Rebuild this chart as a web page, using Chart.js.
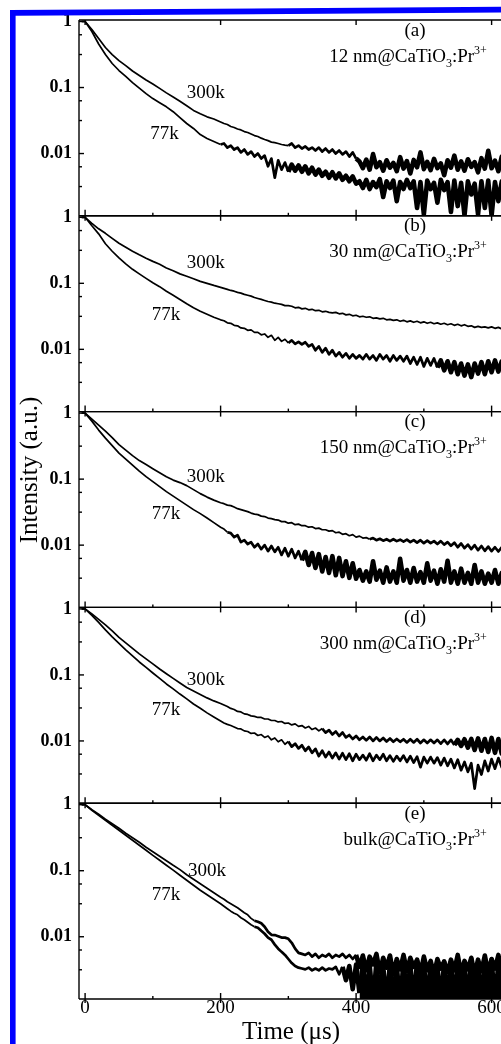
<!DOCTYPE html>
<html>
<head>
<meta charset="utf-8">
<script src="https://cdn.jsdelivr.net/npm/chart.js@4/dist/chart.umd.min.js"></script>
<style>
html,body{margin:0;padding:0;background:#fff;overflow:hidden;width:501px;height:1044px;}
#wrap{position:relative;width:501px;height:1044px;overflow:hidden;}
#c{position:absolute;left:0;top:0;}
#frame{position:absolute;left:0;top:0;}
</style>
</head>
<body>
<div id="wrap">
<canvas id="c" width="530" height="1044"></canvas>
<svg id="frame" width="501" height="1044"><polygon points="10,10 501,6.8 501,12.6 15.6,15.8 15.6,1044 10,1044" fill="#0000ff"/></svg>
</div>
<script>
// ---------- data (time in µs, intensity in a.u.) ----------
const times = [-5,0,10,20,30,40,50,60,70,80,90,100,110,120,130,140,150,160,170,180,190,200,
205,210,215,220,225,230,235,240,245,250,255,260,265,270,275,280,285,290,295,300,
305,310,315,320,325,330,335,340,345,350,355,360,365,370,375,380,385,390,395,400,
405,410,415,420,425,430,435,440,445,450,455,460,465,470,475,480,485,490,495,500,
505,510,515,520,525,530,535,540,545,550,555,560,565,570,575,580,585,590,595,600,
605,610,615,620,625];

const a300k = [1,1,0.756,0.553,0.404,0.316,0.256,0.215,0.178,0.152,0.130,0.113,0.097,0.083,0.072,0.062,0.053,0.045,0.040,0.036,0.0334,0.030,
0.0285,0.0275,0.0257,0.0248,0.0235,0.0228,0.0215,0.0208,0.0197,0.0187,0.0181,0.0171,0.0163,0.0157,0.0149,0.0146,0.0142,0.0137,0.0134,0.0132,
0.0142,0.0123,0.0132,0.0119,0.0128,0.0115,0.0123,0.0111,0.0123,0.0107,0.0119,0.0104,0.0115,0.0100,0.0111,0.0097,0.0107,0.0090,0.0104,0.0084,
0.0076,0.0060,0.0081,0.0057,0.0098,0.0062,0.0074,0.0055,0.0079,0.0061,
0.0072,0.0054,0.0088,0.0059,0.0077,0.0050,0.0080,0.0062,0.0104,0.0058,
0.0075,0.0056,0.0083,0.0060,0.0071,0.0047,0.0079,0.0061,0.0093,0.0057,
0.0076,0.0055,0.0082,0.0063,0.0074,0.0052,0.0085,0.0059,0.0110,0.0060,
0.0078,0.0054,0.0090,0.0058,0.0076];
const a77k = [1,1,0.705,0.456,0.316,0.231,0.181,0.147,0.119,0.098,0.081,0.068,0.059,0.051,0.043,0.035,0.0285,0.024,0.0194,0.0169,0.0152,0.0137,
0.0142,0.0123,0.0132,0.0115,0.0123,0.0104,0.0115,0.0097,0.0107,0.0090,0.0100,0.0084,0.0093,0.0064,0.0084,0.0043,0.0079,0.0057,0.0073,0.0053,
0.0068,0.0055,0.0066,0.0053,0.0064,0.0050,0.0061,0.0048,0.0057,0.0046,0.0053,0.0043,0.0052,0.0042,0.0050,0.0040,0.0046,0.0038,0.0045,0.0035,
0.0038,0.0030,0.0040,0.0029,0.0037,0.0031,0.0041,0.0022,0.0038,0.0030,
0.0039,0.0019,0.0037,0.0029,0.0040,0.0030,0.0038,0.0015,0.0037,0.0012,
0.0039,0.0029,0.0036,0.0018,0.0040,0.0028,0.0037,0.0013,0.0039,0.0016,
0.0036,0.00115,0.0038,0.0024,0.0035,0.0012,0.0038,0.0015,0.0039,0.00115,
0.0037,0.0019,0.0038,0.0013,0.0036];

const b300k = [1,1,0.811,0.67,0.572,0.48,0.404,0.351,0.306,0.27,0.24,0.215,0.194,0.171,0.155,0.139,0.128,0.117,0.107,0.100,0.093,0.087,
0.084,0.081,0.078,0.076,0.073,0.071,0.068,0.066,0.064,0.061,0.059,0.057,0.055,0.053,0.052,0.050,0.049,0.048,0.046,0.046,
0.045,0.0425,0.0433,0.041,0.0418,0.0397,0.0404,0.0385,0.039,0.037,0.0377,0.0363,0.0357,0.0363,0.0345,0.0351,0.0333,0.0339,0.0322,0.0328,
0.0311,0.0317,0.0306,0.0311,0.0295,0.030,0.029,0.0295,0.028,0.0285,
0.0275,0.028,0.0266,0.0275,0.0261,0.027,0.0257,0.0266,0.0252,0.0261,
0.0248,0.0257,0.0244,0.0252,0.024,0.0248,0.0236,0.0244,0.0231,0.024,
0.0227,0.0236,0.0223,0.0227,0.0215,0.0223,0.0215,0.0219,0.0211,0.0219,
0.0208,0.0215,0.0204,0.0211,0.0208];
const b77k = [1,1,0.743,0.562,0.397,0.306,0.243,0.197,0.163,0.139,0.119,0.102,0.089,0.076,0.066,0.057,0.049,0.0426,0.0377,0.0339,0.0306,0.028,
0.0271,0.0252,0.0248,0.0231,0.0227,0.0211,0.0208,0.0194,0.0197,0.0181,0.0181,0.0166,0.0171,0.0152,0.0163,0.0137,0.0152,0.0132,0.0142,0.0125,
0.0137,0.0121,0.0130,0.0119,0.0128,0.0111,0.0119,0.0097,0.0111,0.0090,0.0104,0.0084,0.0097,0.0079,0.0090,0.0076,0.0087,0.0073,0.0084,0.0073,
0.0081,0.0071,0.0084,0.0071,0.0081,0.0068,0.0084,0.0071,0.0081,0.0066,
0.0081,0.0068,0.0079,0.0066,0.0079,0.0061,0.0076,0.0059,0.0076,0.0055,
0.0073,0.0057,0.0073,0.0053,0.0068,0.0048,0.0066,0.0045,0.0064,0.0042,
0.0061,0.0040,0.0059,0.0038,0.0061,0.0043,0.0064,0.0042,0.0066,0.0045,
0.0068,0.0046,0.0066,0.0048,0.0064];

const c300k = [1,1,0.811,0.658,0.534,0.425,0.333,0.275,0.227,0.191,0.166,0.144,0.125,0.109,0.0966,0.0886,0.0797,0.0693,0.0603,0.0534,0.0481,0.0439,
0.0425,0.0404,0.0397,0.0377,0.0357,0.0345,0.0333,0.0322,0.0306,0.0295,0.029,0.0275,0.0271,0.0257,0.0252,0.0244,0.024,0.0227,0.0227,0.0215,
0.0219,0.0204,0.0208,0.0197,0.0197,0.0187,0.019,0.0178,0.0181,0.0171,0.0171,0.0163,0.0166,0.0154,0.0157,0.0146,0.0149,0.0139,0.0144,0.0132,
0.0137,0.0128,0.013,0.0123,0.0128,0.0119,0.0125,0.0117,0.0123,0.0115,
0.0123,0.0115,0.0121,0.0113,0.0121,0.0111,0.0119,0.0109,0.0119,0.0107,
0.0117,0.0107,0.0115,0.0104,0.0115,0.0102,0.0111,0.0098,0.0109,0.0093,
0.0106,0.0090,0.0102,0.0087,0.0100,0.0084,0.0097,0.0082,0.0095,0.0081,
0.0093,0.0080,0.0093,0.0081,0.0091];
const c77k = [1,1,0.756,0.553,0.418,0.322,0.248,0.201,0.163,0.132,0.109,0.0917,0.077,0.0646,0.0553,0.0472,0.0404,0.0345,0.030,0.0257,0.0219,0.0187,
0.0175,0.0157,0.0152,0.0132,0.0142,0.0111,0.0119,0.0104,0.0111,0.0093,0.0104,0.0087,0.0100,0.0081,0.0097,0.0079,0.0093,0.0071,0.0090,0.0068,
0.0087,0.0064,0.0081,0.0059,0.0079,0.0050,0.0076,0.0045,0.0073,0.0040,0.0066,0.0038,0.0068,0.0035,0.0064,0.0034,0.0057,0.0032,0.0053,0.0031,
0.0042,0.0029,0.0040,0.0028,0.0057,0.0030,0.0041,0.0027,0.0046,0.0028,
0.0040,0.0027,0.0062,0.0029,0.0042,0.0027,0.0045,0.0028,0.0039,0.0027,
0.0053,0.0029,0.0041,0.0026,0.0043,0.0028,0.0058,0.0027,0.0040,0.0026,
0.0044,0.0027,0.0038,0.0026,0.0050,0.0027,0.0040,0.0026,0.0037,0.0027,
0.0042,0.0026,0.0038,0.0027,0.0041];

const d300k = [1,1,0.84,0.693,0.572,0.464,0.370,0.306,0.252,0.208,0.175,0.147,0.123,0.104,0.0886,0.0756,0.0646,0.0572,0.0507,0.0449,0.0404,0.0370,
0.0351,0.0333,0.0311,0.0300,0.0280,0.0275,0.0257,0.0252,0.0240,0.0236,0.0227,0.0227,0.0215,0.0215,0.0204,0.0204,0.0194,0.0197,0.0184,0.0187,
0.0175,0.0181,0.0166,0.0171,0.0157,0.0166,0.0149,0.0157,0.0142,0.0154,0.0134,0.0146,0.0125,0.0139,0.0119,0.0134,0.0113,0.0123,0.0107,0.0119,
0.0104,0.0115,0.0102,0.0115,0.0100,0.0113,0.0100,0.0111,0.0098,0.0109,
0.0097,0.0107,0.0097,0.0106,0.0095,0.0106,0.0095,0.0106,0.0093,0.0104,
0.0093,0.0104,0.0093,0.0104,0.0091,0.0104,0.0090,0.0104,0.0087,0.0104,
0.0084,0.0106,0.0079,0.0107,0.0073,0.0109,0.0071,0.0107,0.0068,0.0111,
0.0066,0.0107,0.0064,0.0104,0.0071];
const d77k = [1,1,0.797,0.624,0.481,0.377,0.300,0.239,0.194,0.157,0.130,0.107,0.0886,0.0730,0.0614,0.0513,0.0433,0.0363,0.0312,0.0266,0.0231,0.0201,
0.0187,0.0178,0.0171,0.0163,0.0154,0.0152,0.0142,0.0139,0.0130,0.0132,0.0121,0.0125,0.0113,0.0119,0.0104,0.0111,0.0097,0.0104,0.0089,0.0098,
0.0082,0.0091,0.0077,0.0086,0.0071,0.0081,0.0066,0.0076,0.0059,0.0071,0.0057,0.0068,0.0055,0.0066,0.0053,0.0065,0.0052,0.0064,0.0050,0.0063,
0.0052,0.0061,0.0051,0.0064,0.0050,0.0061,0.0052,0.0063,0.0050,0.0060,
0.0049,0.0059,0.0050,0.0060,0.0048,0.0059,0.0047,0.0058,0.0040,0.0057,
0.0046,0.0057,0.0046,0.0056,0.0043,0.0055,0.0042,0.0053,0.0039,0.0052,
0.0036,0.0048,0.0034,0.0046,0.0019,0.0043,0.0031,0.0050,0.0035,0.0053,
0.0038,0.0055,0.0040,0.0057,0.0042];

const e300k = [1,1,0.84,0.718,0.603,0.515,0.44,0.370,0.316,0.270,0.227,0.194,0.166,0.142,0.121,0.104,0.087,0.0743,0.0636,0.0544,0.0464,0.0397,
0.0370,0.0339,0.0316,0.0295,0.0275,0.0252,0.0231,0.0215,0.019,0.0175,0.0169,0.0160,0.0142,0.0119,0.0107,0.0106,0.0102,0.0097,0.0097,0.0093,
0.0081,0.0066,0.0057,0.0055,0.0053,0.0057,0.0050,0.0055,0.0048,0.0053,0.0050,0.0055,0.0048,0.0053,0.0050,0.0055,0.0048,0.0053,0.0046,0.0053,
0.0035,0.0052,0.0031,0.0050,0.0038,0.0055,0.0029,0.0048,0.0034,0.0052,
0.0027,0.0046,0.0032,0.0053,0.0030,0.0048,0.0035,0.0045,0.0028,0.0050,
0.0031,0.0043,0.0027,0.0046,0.0033,0.0042,0.0029,0.0045,0.0031,0.0053,
0.0028,0.0043,0.0032,0.0048,0.0027,0.0045,0.0030,0.0052,0.0029,0.0046,
0.0033,0.0053,0.0028,0.0050,0.0031];
const e77k = [1,1,0.825,0.693,0.582,0.489,0.411,0.345,0.290,0.243,0.204,0.171,0.144,0.121,0.102,0.0855,0.0718,0.0603,0.0507,0.0433,0.0370,0.0316,
0.029,0.0266,0.0244,0.0227,0.0215,0.0194,0.0181,0.0166,0.0152,0.0142,0.0137,0.0123,0.0111,0.0097,0.0090,0.0076,0.0066,0.0059,0.0053,0.0046,
0.0040,0.0036,0.0034,0.0033,0.0032,0.0034,0.0031,0.0033,0.0031,0.0034,0.0031,0.0033,0.0032,0.0035,0.0027,0.0035,0.0022,0.0036,0.0016,0.0038,
0.0014,0.0040,0.00115,0.0038,0.001,0.0042,0.0012,0.0035,0.001,0.0040,
0.001,0.0036,0.001,0.0042,0.0012,0.0038,0.001,0.0043,0.001,0.0039,
0.001,0.0040,0.00115,0.0036,0.001,0.0042,0.001,0.0039,0.001,0.0043,
0.00115,0.0038,0.001,0.0046,0.001,0.0040,0.001,0.0042,0.00115,0.0045,
0.001,0.0040,0.001,0.0043,0.001];

const panelTags = ['(a)','(b)','(c)','(d)','(e)'];
const sampleNames = ['12 nm','30 nm','150 nm','300 nm','bulk'];
const seriesLabels = ['300k','77k'];
const values300k = [a300k,b300k,c300k,d300k,e300k];
const values77k = [a77k,b77k,c77k,d77k,e77k];
const yTickValues = [1,0.1,0.01];
const yTickLabels = ['1','0.1','0.01'];
const yMinorValues = [0.63,0.316,0.063,0.0316,0.0063,0.00316];
const xTickValues = [0,200,400,600];
const xTickLabels = ['0','200','400','600'];
const xMinorValues = [100,300,500];

// style: time (µs) after which a trace is drawn as a noisy band (medium) / dense band (heavy) / filled to axis
const noisyFrom300k = [300, 9999, 420, 350, 250];
const heavyFrom300k = [400, 9999, 9999, 545, 400];
const noisyFrom77k = [200, 300, 210, 300, 250];
const heavyFrom77k = [300, 520, 320, 9999, 380];
const fillFrom77k = [9999, 9999, 9999, 9999, 405];

// annotation anchors (data units)
const label300kX = [150,150,150,150,152];
const label300kY = [0.0694,0.170,0.0892,0.0709,0.0844];
const label77kX = [96,98.5,98.5,98.5,98.5];
const label77kY = [0.0166,0.028,0.025,0.0244,0.0357];

[...values300k,...values77k].forEach((a,i)=>{ if(a.length!==times.length) throw new Error('length mismatch in series '+i+': '+a.length+' vs '+times.length); });

// ---------- chart ----------
const SERIF = '"Liberation Serif", "Times New Roman", serif';
const panelIds = ['y0','y1','y2','y3','y4'];

const datasets = [];
panelIds.forEach((id,p)=>{
  [[values300k[p], noisyFrom300k[p], heavyFrom300k[p], 9999], [values77k[p], noisyFrom77k[p], heavyFrom77k[p], fillFrom77k[p]]].forEach(([vals,noisyFrom,heavyFrom,fillFrom],k)=>{
    const ds = {
      label: sampleNames[p]+' '+seriesLabels[k],
      data: times.map((t,i)=>({x:t, y:vals[i]})),
      yAxisID: id, xAxisID: 'x',
      borderColor: '#000', borderWidth: 1.7, pointRadius: 0, tension: 0, fill: false,
      borderJoinStyle: 'round',
      backgroundColor: 'rgba(0,0,0,0)',
      segment: {
        borderWidth: c => (c.p0.parsed.x >= heavyFrom ? 4.6 : (c.p0.parsed.x >= noisyFrom ? 2.7 : 1.7)),
        backgroundColor: c => (c.p0.parsed.x >= fillFrom ? '#000' : 'rgba(0,0,0,0)')
      }
    };
    if (fillFrom < 9999) ds.fill = 'start';
    datasets.push(ds);
  });
});

const scales = {};
for (let p = 4; p >= 0; p--) {
  scales[panelIds[p]] = {
    type: 'logarithmic', position: 'left', stack: 'panels', stackWeight: 1,
    min: 0.00114, max: 1.054,
    grid: {display:false, drawTicks:false}, border: {display:false},
    afterBuildTicks: s => { s.ticks = yTickValues.map(v=>({value:v})); },
    afterFit: s => { s.width = 79; },
    ticks: {
      callback: (v,i) => yTickLabels[i],
      font: {family: SERIF, size: 18, weight: 'bold', lineHeight: 1},
      color: '#000', padding: 7, autoSkip: false, maxRotation: 0
    }
  };
}
scales.x = {
  type: 'linear', position: 'bottom', min: -9, max: 640,
  grid: {display:false, drawTicks:false}, border: {display:false},
  afterBuildTicks: s => { s.ticks = xTickValues.map(v=>({value:v})); },
  afterFit: s => { s.height = 45; },
  ticks: {
    callback: (v,i) => xTickLabels[i],
    font: {family: SERIF, size: 19, lineHeight: 1},
    color: '#000', padding: 0, autoSkip: false, maxRotation: 0
  }
};

function drawFormula(ctx, name, right, baseline) {
  const big = '19px ' + SERIF, small = '12px ' + SERIF;
  const parts = [[name + '@CaTiO', big, 0], ['3', small, 5], [':Pr', big, 0], ['3+', small, -8]];
  let total = 0;
  parts.forEach(pt => { ctx.font = pt[1]; total += ctx.measureText(pt[0]).width; });
  let x = right - total;
  ctx.textAlign = 'left';
  parts.forEach(pt => { ctx.font = pt[1]; ctx.fillText(pt[0], x, baseline + pt[2]); x += ctx.measureText(pt[0]).width; });
}

const decor = {
  id: 'decor',
  beforeDatasetDraw(chart, args) {
    const ys = chart.scales[args.meta.yAxisID], ca = chart.chartArea, ctx = chart.ctx;
    ctx.save();
    ctx.beginPath();
    ctx.rect(ca.left, ys.top, ca.right - ca.left, ys.bottom - ys.top);
    ctx.clip();
  },
  afterDatasetDraw(chart) { chart.ctx.restore(); },
  afterDraw(chart) {
    const ctx = chart.ctx, ca = chart.chartArea, xs = chart.scales.x;
    ctx.save();
    ctx.strokeStyle = '#000'; ctx.lineWidth = 1.4;
    const seg = (x1,y1,x2,y2) => { ctx.beginPath(); ctx.moveTo(x1,y1); ctx.lineTo(x2,y2); ctx.stroke(); };
    seg(ca.left, ca.top, ca.left, ca.bottom);
    panelIds.forEach((id,p) => {
      const ys = chart.scales[id];
      seg(ca.left, ys.top, ca.right, ys.top);
      seg(ca.left, ys.bottom, ca.right, ys.bottom);
      xTickValues.forEach(v => { const x = xs.getPixelForValue(v); seg(x, ys.top, x, ys.top + 5); seg(x, ys.bottom, x, ys.bottom - 6); });
      xMinorValues.forEach(v => { const x = xs.getPixelForValue(v); seg(x, ys.bottom, x, ys.bottom - 3); });
      yTickValues.forEach(v => { const y = ys.getPixelForValue(v); seg(ca.left, y, ca.left + 5, y); });
      yMinorValues.forEach(v => { const y = ys.getPixelForValue(v); seg(ca.left, y, ca.left + 3, y); });
    });
    xTickValues.forEach(v => { const x = xs.getPixelForValue(v); seg(x, ca.bottom, x, ca.bottom + 4); });

    ctx.fillStyle = '#000';
    ctx.textBaseline = 'alphabetic';
    panelIds.forEach((id,p) => {
      const ys = chart.scales[id];
      ctx.font = '19px ' + SERIF;
      ctx.textAlign = 'center';
      ctx.fillText(panelTags[p], xs.getPixelForValue(487), ys.top + 15.5);
      drawFormula(ctx, sampleNames[p], xs.getPixelForValue(593), ys.top + 41.5);
      ctx.font = '19px ' + SERIF;
      ctx.textAlign = 'left';
      ctx.fillText(seriesLabels[0], xs.getPixelForValue(label300kX[p]), ys.getPixelForValue(label300kY[p]));
      ctx.fillText(seriesLabels[1], xs.getPixelForValue(label77kX[p]), ys.getPixelForValue(label77kY[p]));
    });

    // axis titles
    ctx.font = '25px ' + SERIF;
    ctx.textAlign = 'center';
    ctx.fillText('Time (\u03bcs)', 291, 1039);
    ctx.save();
    ctx.translate(37, 470);
    ctx.rotate(-Math.PI / 2);
    ctx.font = '25px ' + SERIF;
    ctx.fillText('Intensity (a.u.)', 0, 0);
    ctx.restore();
    ctx.restore();
  }
};

new Chart(document.getElementById('c'), {
  type: 'line',
  data: {datasets},
  options: {
    responsive: false, animation: false, devicePixelRatio: 1,
    layout: {padding: {top: 20, right: 11.3, bottom: 0, left: 0}},
    scales,
    plugins: {legend: {display:false}, tooltip: {enabled:false}, title: {display:false}, filler: {propagate: false}}
  },
  plugins: [decor]
});
</script>
</body>
</html>
